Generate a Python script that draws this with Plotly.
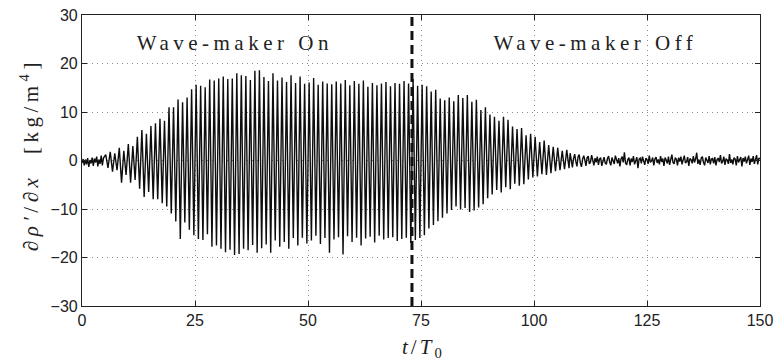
import numpy as np
import plotly.graph_objects as go

# ---- data ----
# low-level noise before the wave-maker response builds up (t = 0 .. 4.75, step 0.25)
start_noise = [-0.5, 0.3, -1.0, 0.2, -0.8, 0.5, -1.3, 0.1, -0.6, 0.6,
               -1.1, 0.4, -0.4, 0.8, -1.2, 0.2, -0.7, 1.0, -1.0, 0.5]

# per-cycle crest (positive) values, cycles t = 5 .. 107
crest_vals = [1.2, 1.8, 1.5, 2.6, 2.0, 3.4, 3.0, 4.9, 6.3, 5.5,
              7.1, 7.7, 8.6, 8.2, 11.0, 11.0, 12.6, 12.0, 13.0, 14.7,
              15.6, 15.4, 15.1, 16.7, 16.5, 16.9, 17.3, 16.8, 16.9, 18.0,
              17.6, 17.4, 16.6, 18.5, 18.6, 17.2, 16.4, 18.0, 16.5, 17.1,
              16.2, 17.6, 16.0, 17.3, 15.8, 16.1, 17.0, 15.6, 16.3, 15.9,
              15.7, 16.3, 15.9, 16.6, 15.5, 16.4, 15.8, 16.5, 15.2, 16.0,
              15.5, 15.9, 16.2, 15.3, 16.0, 15.8, 16.4, 15.9, 16.8, 15.4,
              15.6, 15.3, 14.2, 14.6, 12.8, 12.4, 13.0, 12.2, 13.5, 12.9,
              13.5, 12.1, 12.5, 10.4, 11.0, 9.5, 9.0, 8.2, 9.0, 8.4,
              7.0, 6.5, 6.7, 5.2, 5.5, 4.9, 3.8, 4.1, 3.2, 2.8,
              2.6, 2.0, 2.2]

# per-cycle trough (negative) values, cycles t = 5 .. 107
trough_vals = [-1.5, -2.3, -2.0, -4.6, -3.0, -4.6, -4.0, -5.8, -7.5, -6.5,
               -8.0, -8.0, -8.8, -9.5, -10.9, -12.6, -16.2, -12.8, -14.3, -15.4,
               -16.2, -16.4, -15.2, -17.8, -17.5, -18.2, -18.9, -18.4, -19.5, -19.3,
               -18.2, -18.5, -17.4, -19.0, -18.1, -17.3, -19.0, -16.5, -17.8, -16.8,
               -18.2, -16.0, -17.5, -15.9, -17.1, -16.5, -15.5, -17.2, -16.0, -19.0,
               -16.3, -15.8, -19.4, -15.6, -16.8, -15.9, -17.5, -16.1, -15.7, -16.9,
               -15.5, -16.3, -16.0, -15.8, -16.6, -16.2, -15.9, -17.0, -16.4, -16.0,
               -15.4, -14.0, -13.3, -12.5, -11.8, -10.9, -10.2, -9.5, -10.1, -9.8,
               -10.6, -10.3, -9.7, -9.0, -7.8, -7.0, -6.1, -6.6, -5.5, -5.9,
               -4.8, -5.2, -4.9, -3.9, -3.5, -3.3, -2.8, -3.0, -2.6, -2.2,
               -2.0, -1.8, -1.6]

# residual noise after the waves have passed (t = 108 .. 150, step 0.25)
tail_noise = [1.5, -0.6, -1.4, 0.4, 1.3, -0.2, -1.2, 0.8, 1.2, -0.5, -1.3, 0.3, 1.0, 0.1, -1.1, 0.6,
              0.9, -0.7, -0.3, 1.1, 0.2, -1.0, 0.5, -0.4, 0.8, -0.9, 0.3, 0.6, -1.1, 0.2, 0.7, -0.5,
              -0.8, 0.4, 0.9, -0.3, -1.0, 0.6, 0.1, -0.7, 1.0, -0.2, -0.6, 0.5, -1.2, 0.3, 0.8, -0.4,
              1.7, -0.5, -0.9, 0.2, 0.6, -1.0, 0.4, -0.3, 0.9, -0.8, 0.1, 0.7, -1.6, 0.3, 0.5, -0.6,
              0.8, -0.2, -0.9, 0.5, 0.2, -0.7, 1.0, -0.4, -0.1, 0.6, -1.0, 0.3, 0.7, -0.5, 0.2, -0.8,
              0.9, -0.3, 0.4, -1.1, 0.6, 0.1, -0.6, 0.8, -0.9, 0.2, 1.2, -0.4, -0.7, 0.5, 0.3, -1.0,
              0.6, -0.2, 0.8, -0.8, 0.1, 1.0, -0.5, -0.3, 0.7, -1.1, 0.4, 0.2, -0.6, 0.9, -0.4, 0.3,
              1.6, -0.7, 0.2, -0.9, 0.5, 0.8, -0.4, -1.0, 0.6, 0.1, -0.5, 0.9, -0.8, 0.3, 0.4, -0.6,
              0.7, -1.0, 0.2, 0.5, -0.3, 1.1, -0.6, -0.2, 0.8, -0.9, 0.4, 0.1, -0.7, 1.3, -0.5, 0.2,
              -0.8, 0.6, 0.3, -1.0, 0.9, -0.4, 0.1, 0.7, -1.2, 0.5, -0.2, 0.8, -0.6, 0.3, 1.0, -0.9,
              0.4, -0.3, 0.9, -0.7, 0.2, 1.1, -0.8, 0.5, 0.3]

wavemaker_off_t = 73
x_ticks = [0, 25, 50, 75, 100, 125, 150]
y_ticks = [-30, -20, -10, 0, 10, 20, 30]
label_on = "Wave-maker On"
label_off = "Wave-maker Off"

# ---- assemble the time series (sampling grid only) ----
t_start = 0.25 * np.arange(len(start_noise))
cycles = 5 + np.arange(len(crest_vals))
t_osc = np.column_stack([cycles + 0.25, cycles + 0.75]).ravel()
v_osc = np.column_stack([crest_vals, trough_vals]).ravel()
t_tail = 108 + 0.25 * np.arange(len(tail_noise))

t = np.concatenate([t_start, t_osc, t_tail])
v = np.concatenate([start_noise, v_osc, tail_noise])

fig = go.Figure()
fig.add_trace(go.Scatter(x=t, y=v, mode="lines",
                         line=dict(color="#0d0d0d", width=1.4),
                         hoverinfo="skip", showlegend=False))

fig.add_shape(type="line", xref="x", yref="y",
              x0=wavemaker_off_t, x1=wavemaker_off_t, y0=-30, y1=30,
              line=dict(color="#111111", width=3, dash="9px,5px"))

serif = "Liberation Serif"
ann_font = dict(family=serif, size=21, color="#222222")
fig.add_annotation(x=33.8, y=24.3, xref="x", yref="y", text=label_on,
                   showarrow=False, font=ann_font, xanchor="center", yanchor="middle")
fig.add_annotation(x=113.7, y=24.3, xref="x", yref="y", text=label_off,
                   showarrow=False, font=ann_font, xanchor="center", yanchor="middle")

# axis titles as annotations
fig.add_annotation(x=-0.077, y=0.52, xref="paper", yref="paper",
                   text="<i>∂ρ′</i>/<i>∂x</i>  [kg/m<sup>4</sup>]", textangle=-90,
                   showarrow=False, font=dict(family=serif, size=21, color="#222222"),
                   xanchor="center", yanchor="middle")
fig.add_annotation(x=0.503, y=-0.144, xref="paper", yref="paper",
                   text="<i>t</i>/<i>T</i><sub>0</sub>",
                   showarrow=False, font=dict(family=serif, size=21, color="#222222"),
                   xanchor="center", yanchor="middle")

axis_common = dict(showline=True, linecolor="#222222", linewidth=1.2, mirror="ticks",
                   ticks="inside", ticklen=5, tickcolor="#222222", tickwidth=1,
                   showgrid=True, gridcolor="#8a8a8a", gridwidth=1, griddash="1px,4px",
                   zeroline=False, automargin=False,
                   tickfont=dict(family="Liberation Sans", size=16, color="#222222"))
fig.update_xaxes(range=[0, 150], tickvals=x_ticks, ticktext=[str(k) for k in x_ticks],
                 **axis_common)
fig.update_yaxes(range=[-30, 30], tickvals=y_ticks,
                 ticktext=[("\u2212" + str(abs(k))) if k < 0 else str(k) for k in y_ticks],
                 **axis_common)

fig.update_layout(width=777, height=360,
                  margin=dict(l=82, r=17, t=15, b=54, autoexpand=False),
                  paper_bgcolor="white", plot_bgcolor="white")

post = """
document.body.style.margin = '0';
document.body.style.padding = '0';
var gd = document.getElementById('{plot_id}');
function spc(){
  var anns = document.querySelectorAll('.annotation-text');
  var sp = ['4.5px', '4.5px', '4.5px', '3px'];
  anns.forEach(function(e, i){
    e.setAttribute('letter-spacing', sp[i] || '3px');
  });
}
spc();
if (gd && gd.on) { gd.on('plotly_afterplot', spc); }
"""
fig.write_html("out.html", post_script=post, config={"displayModeBar": False})
